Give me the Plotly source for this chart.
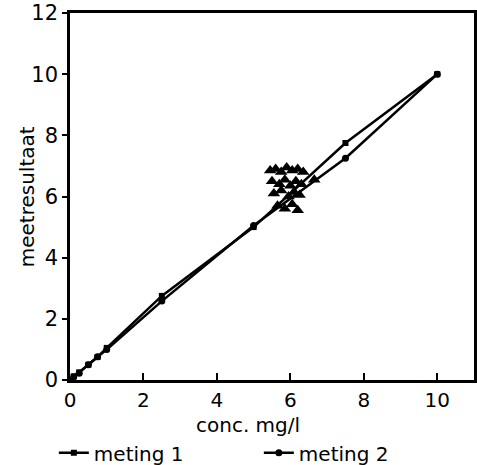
import plotly.graph_objects as go

# calibration standards (mg/l)
conc = [0, 0.1, 0.25, 0.5, 0.75, 1.0, 2.5, 5.0, 7.5, 10.0]
meting_1 = [0, 0.12, 0.25, 0.5, 0.75, 1.05, 2.75, 5.0, 7.75, 10.0]
meting_2 = [0, 0.10, 0.22, 0.5, 0.76, 1.00, 2.58, 5.05, 7.25, 10.0]

# repeated sample measurements around 6 mg/l
sample_conc = [5.45, 5.6, 5.75, 5.9, 6.05, 6.2, 6.35,
               5.5, 5.7, 5.85, 6.0, 6.15, 6.3,
               5.55, 5.75, 5.95, 6.1, 6.25,
               5.65, 5.85, 6.05, 6.2, 6.65]
sample_result = [6.85, 6.9, 6.8, 6.95, 6.85, 6.9, 6.8,
                 6.5, 6.4, 6.55, 6.35, 6.5, 6.4,
                 6.1, 6.2, 6.0, 6.15, 6.05,
                 5.7, 5.6, 5.75, 5.55, 6.55]

x_ticks = [0, 2, 4, 6, 8, 10]
y_ticks = [0, 2, 4, 6, 8, 10, 12]

x_title = "conc. mg/l"
y_title = "meetresultaat"

font_family = "DejaVu Sans"

fig = go.Figure()
fig.add_trace(go.Scatter(
    x=sample_conc, y=sample_result, mode="markers", showlegend=False,
    marker=dict(symbol="triangle-up", size=11, color="black"),
))
fig.add_trace(go.Scatter(
    x=conc, y=meting_1, mode="lines+markers", name="meting 1",
    line=dict(color="black", width=2.5),
    marker=dict(symbol="square", size=6, color="black"),
))
fig.add_trace(go.Scatter(
    x=conc, y=meting_2, mode="lines+markers", name="meting 2",
    line=dict(color="black", width=2.5),
    marker=dict(symbol="circle", size=7, color="black"),
))

fig.update_layout(
    width=477, height=465,
    margin=dict(l=70, r=3, t=13, b=85, autoexpand=False),
    paper_bgcolor="white", plot_bgcolor="white",
    font=dict(family=font_family, color="black", size=20),
    legend=dict(orientation="h", x=-0.04, y=-0.145, xanchor="left", yanchor="top",
                font=dict(size=20), itemwidth=30,
                entrywidthmode="pixels", entrywidth=160),
)
fig.update_xaxes(
    range=[0, 11], tickvals=x_ticks, ticktext=[str(v) for v in x_ticks],
    showline=True, linecolor="black", linewidth=2.5, mirror=True,
    ticks="inside", ticklen=7, tickwidth=2, tickcolor="black",
    showgrid=False, zeroline=False,
    tickfont=dict(size=20),
)
fig.update_yaxes(
    range=[0, 12], tickvals=y_ticks, ticktext=[str(v) for v in y_ticks],
    showline=True, linecolor="black", linewidth=2.5, mirror=True,
    ticks="outside", ticklen=5, tickwidth=2, tickcolor="black",
    showgrid=False, zeroline=False,
    tickfont=dict(size=21),
)

# axis titles placed as annotations for precise positioning
fig.add_annotation(text=x_title, xref="paper", yref="paper", x=0.44, y=-0.122,
                   showarrow=False, font=dict(size=20), xanchor="center", yanchor="middle")
fig.add_annotation(text=y_title, xref="paper", yref="paper", x=-0.107, y=0.5,
                   textangle=-90, showarrow=False, font=dict(size=20),
                   xanchor="center", yanchor="middle")

fig.write_html("out.html")
